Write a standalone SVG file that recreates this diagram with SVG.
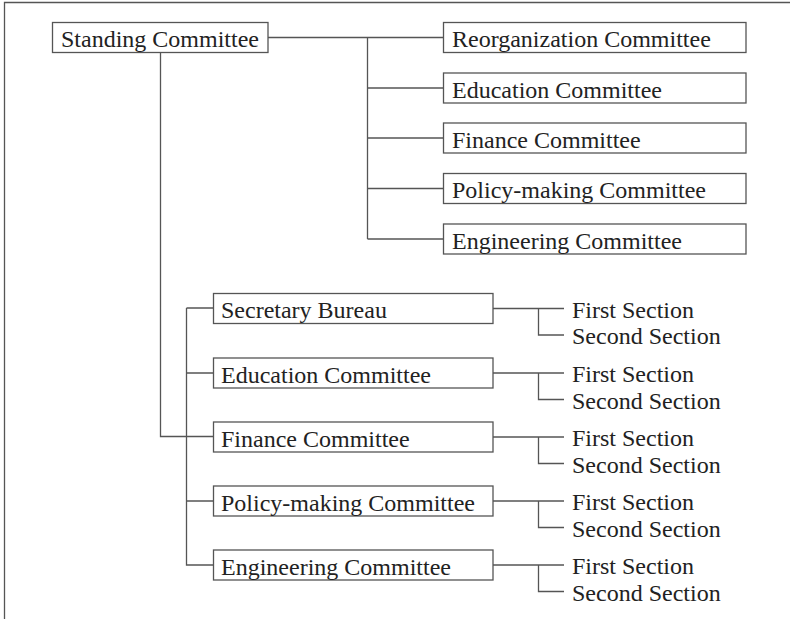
<svg xmlns="http://www.w3.org/2000/svg" width="790" height="619" viewBox="0 0 790 619">
<style>
.box{fill:#fff;stroke:#555;stroke-width:1.3}
.ln{fill:none;stroke:#555;stroke-width:1.3}
text{font-family:"Liberation Serif","Times New Roman",serif;font-size:24px;fill:#222}
</style>
<rect width="790" height="619" fill="#fff"/>
<path class="ln" d="M4.5,619 V2.5 H790"/>
<g id="connectors">
<path class="ln" d="M268,37.5 H443 M367.5,37.5 V239 M367.5,88 H443 M367.5,138 H443 M367.5,188.5 H443 M367.5,239 H443"/>
<path class="ln" d="M160.5,52 V436.5 H213 M186.5,308 V565 H213 M186.5,308 H213 M186.5,373 H213 M186.5,501 H213"/>
<path class="ln" d="M493,308.5 H564 M538.5,308.5 V335 H564"/>
<path class="ln" d="M493,373 H564 M538.5,373 V399.5 H564"/>
<path class="ln" d="M493,437 H564 M538.5,437 V463.5 H564"/>
<path class="ln" d="M493,501 H564 M538.5,501 V527.5 H564"/>
<path class="ln" d="M493,565 H564 M538.5,565 V591.5 H564"/>
</g>
<g id="standing"><rect class="box" x="52.5" y="22.5" width="215.5" height="30"/><text x="61" y="47">Standing Committee</text></g>
<g id="top-reorg"><rect class="box" x="443.5" y="22.5" width="302.5" height="30"/><text x="452" y="47">Reorganization Committee</text></g>
<g id="top-education"><rect class="box" x="443.5" y="73" width="302.5" height="30"/><text x="452" y="97.5">Education Committee</text></g>
<g id="top-finance"><rect class="box" x="443.5" y="123" width="302.5" height="30"/><text x="452" y="147.5">Finance Committee</text></g>
<g id="top-policy"><rect class="box" x="443.5" y="173.5" width="302.5" height="30"/><text x="452" y="198">Policy-making Committee</text></g>
<g id="top-engineering"><rect class="box" x="443.5" y="224" width="302.5" height="30"/><text x="452" y="248.5">Engineering Committee</text></g>
<g id="secretary"><rect class="box" x="213.5" y="293.5" width="279.5" height="30"/><text x="221" y="318">Secretary Bureau</text></g>
<g id="education"><rect class="box" x="213.5" y="358" width="279.5" height="30"/><text x="221" y="382.5">Education Committee</text></g>
<g id="finance"><rect class="box" x="213.5" y="422" width="279.5" height="30"/><text x="221" y="446.5">Finance Committee</text></g>
<g id="policy"><rect class="box" x="213.5" y="486" width="279.5" height="30"/><text x="221" y="510.5">Policy-making Committee</text></g>
<g id="engineering"><rect class="box" x="213.5" y="550" width="279.5" height="30"/><text x="221" y="574.5">Engineering Committee</text></g>
<g id="sections">
<text x="572" y="318">First Section</text><text x="572" y="344">Second Section</text>
<text x="572" y="382">First Section</text><text x="572" y="408.5">Second Section</text>
<text x="572" y="446">First Section</text><text x="572" y="472.5">Second Section</text>
<text x="572" y="510">First Section</text><text x="572" y="536.5">Second Section</text>
<text x="572" y="574">First Section</text><text x="572" y="600.5">Second Section</text>
</g>
</svg>
